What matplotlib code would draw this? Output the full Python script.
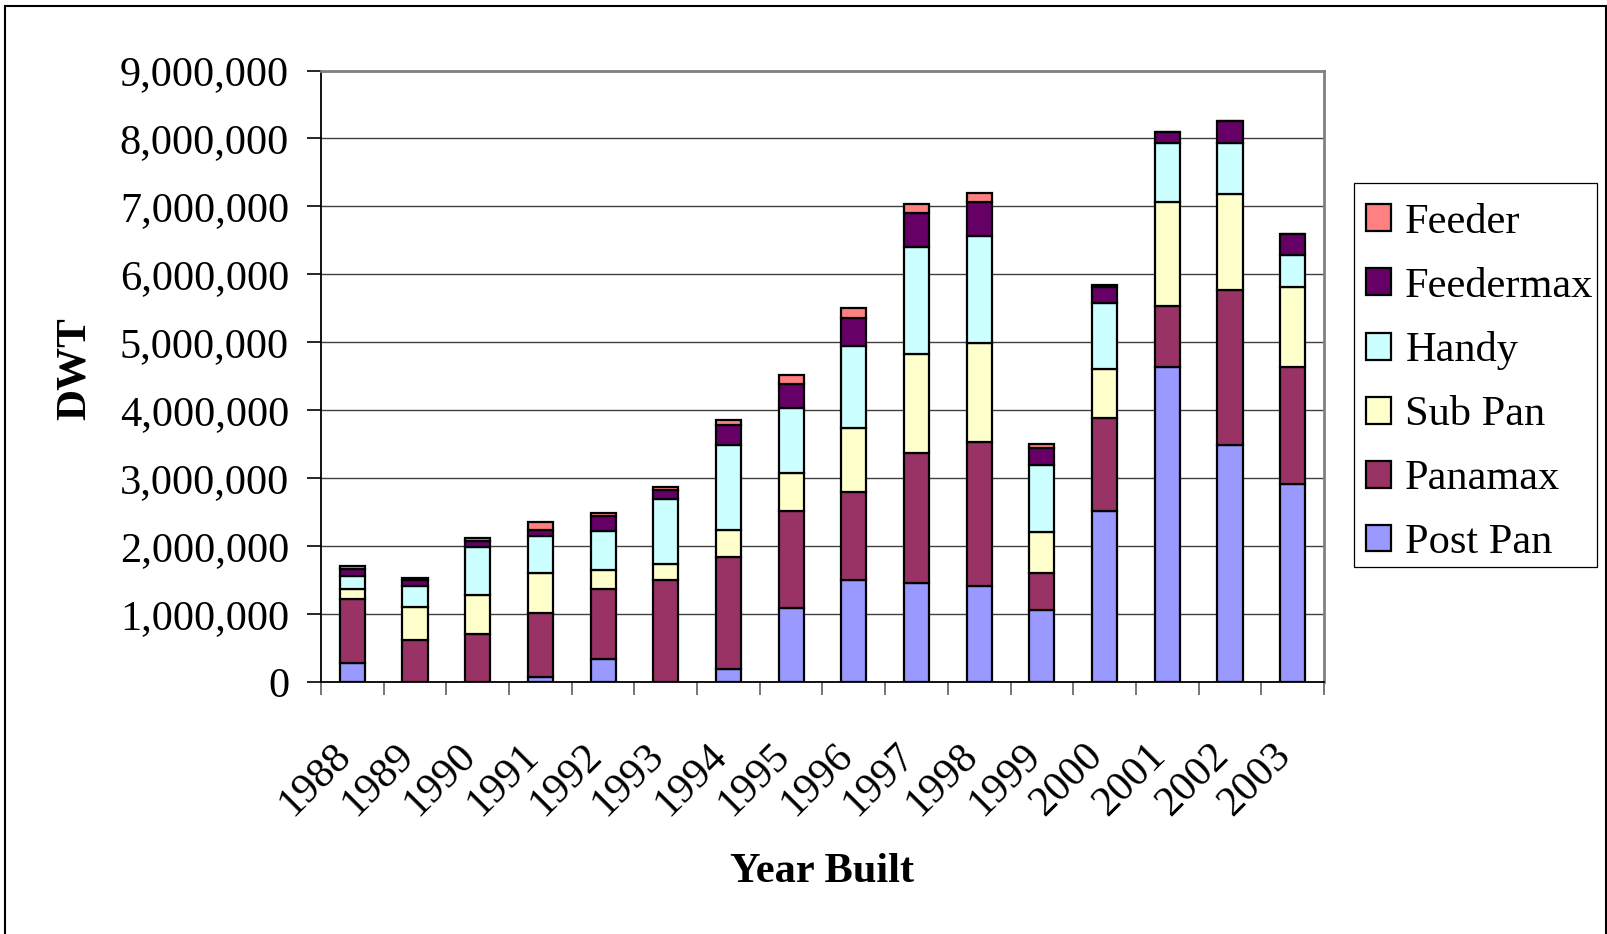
import numpy as np
import matplotlib
matplotlib.use("Agg")
import matplotlib.pyplot as plt
from matplotlib.patches import Rectangle
from matplotlib.ticker import FuncFormatter, FixedLocator
from matplotlib.transforms import ScaledTranslation

# data (DWT per size class, in tonnes)
years = ["1988", "1989", "1990", "1991", "1992", "1993", "1994", "1995",
         "1996", "1997", "1998", "1999", "2000", "2001", "2002", "2003"]
post_pan = [275000, 0, 0, 80000, 340000, 0, 196000, 1090000,
            1500000, 1450000, 1420000, 1060000, 2520000, 4630000, 3490000, 2910000]
panamax = [941000, 618000, 706000, 930000, 1030000, 1500000, 1644000, 1420000,
           1290000, 1920000, 2110000, 550000, 1370000, 910000, 2280000, 1730000]
sub_pan = [154000, 482000, 578000, 600000, 280000, 235000, 395000, 560000,
           950000, 1460000, 1460000, 600000, 710000, 1520000, 1410000, 1180000]
handy = [190000, 310000, 706000, 540000, 570000, 965000, 1250000, 970000,
         1210000, 1570000, 1570000, 980000, 980000, 870000, 750000, 470000]
feedermax = [110000, 85000, 90000, 85000, 230000, 130000, 295000, 350000,
             410000, 510000, 510000, 260000, 230000, 160000, 320000, 300000]
feeder = [30000, 35000, 40000, 125000, 30000, 40000, 70000, 130000,
          150000, 130000, 130000, 50000, 40000, 0, 0, 0]

series = [("Post Pan", post_pan, "#9999FF"),
          ("Panamax", panamax, "#993366"),
          ("Sub Pan", sub_pan, "#FFFFCC"),
          ("Handy", handy, "#CCFFFF"),
          ("Feedermax", feedermax, "#660066"),
          ("Feeder", feeder, "#FF8080")]

plt.rcParams["font.family"] = ["Liberation Serif", "DejaVu Serif"]

fig = plt.figure(figsize=(16.08, 9.34), dpi=100)
ax = fig.add_axes([321/1608, 1 - 682/934, (1324-321)/1608, (682-70.5)/934])

x = np.arange(len(years))
bottom = np.zeros(len(years))
handles = []
for name, vals, col in series:
    vals = np.array(vals, dtype=float)
    b = ax.bar(x, vals, width=0.4, bottom=bottom, color=col,
               edgecolor="black", linewidth=1.6, label=name, zorder=3)
    handles.append(b)
    bottom += vals

ax.set_xlim(-0.5, len(years) - 0.5)
ax.set_ylim(0, 9000000)
ax.set_yticks(np.arange(0, 9000001, 1000000))
ax.yaxis.set_major_formatter(FuncFormatter(lambda v, p: f"{int(v):,}"))
ax.yaxis.grid(True, color="#404040", linewidth=1.0, zorder=0)
ax.set_axisbelow(True)

ax.set_xticks(x)
ax.set_xticklabels(years, rotation=45, ha="right", va="center",
                   rotation_mode="anchor")
ax.xaxis.set_minor_locator(FixedLocator(np.arange(-0.5, len(years), 1.0)))
ax.tick_params(axis="x", which="major", length=0, pad=49, labelsize=30.5)
ax.tick_params(axis="x", which="minor", length=9.5, width=1.2, color="#606060",
               direction="out")
ax.tick_params(axis="y", length=10, width=1.2, pad=13, labelsize=30.5,
               direction="out", color="black")
off = ScaledTranslation(-0.075, 0, fig.dpi_scale_trans)
for lab in ax.get_xticklabels():
    lab.set_transform(lab.get_transform() + off)

for s in ["top", "right"]:
    ax.spines[s].set_color("#808080")
    ax.spines[s].set_linewidth(2)
for s in ["left", "bottom"]:
    ax.spines[s].set_color("black")
    ax.spines[s].set_linewidth(1.3)

ax.set_ylabel("DWT", fontsize=31, fontweight="bold", va="center")
ax.yaxis.set_label_coords(-0.246, 0.513)
ax.set_xlabel("Year Built", fontsize=30.5, fontweight="bold", va="center")
ax.xaxis.set_label_coords(0.5, -0.31)

leg = fig.legend(handles[::-1], [s[0] for s in series][::-1],
                 loc="upper left", bbox_to_anchor=(1354/1608, 1 - 191.5/934),
                 bbox_transform=fig.transFigure, borderaxespad=0,
                 fontsize=30.5, frameon=False,
                 handlelength=0.6, handleheight=0.6, handletextpad=0.33,
                 labelspacing=0.6, borderpad=0.28)

# legend box drawn separately so its padding matches the original
fig.patches.append(Rectangle((1354/1608, 1 - 567/934), (1597-1354)/1608,
                             (567-183)/934, transform=fig.transFigure,
                             fill=False, edgecolor="black", linewidth=0.9))

# outer chart border (bottom edge falls outside the picture)
fig.patches.append(Rectangle((5/1608, -0.05), (1606-5)/1608, 1.05 - 6/934,
                             transform=fig.transFigure, fill=False,
                             edgecolor="black", linewidth=1.5))

fig.savefig("out.png", dpi=100)
